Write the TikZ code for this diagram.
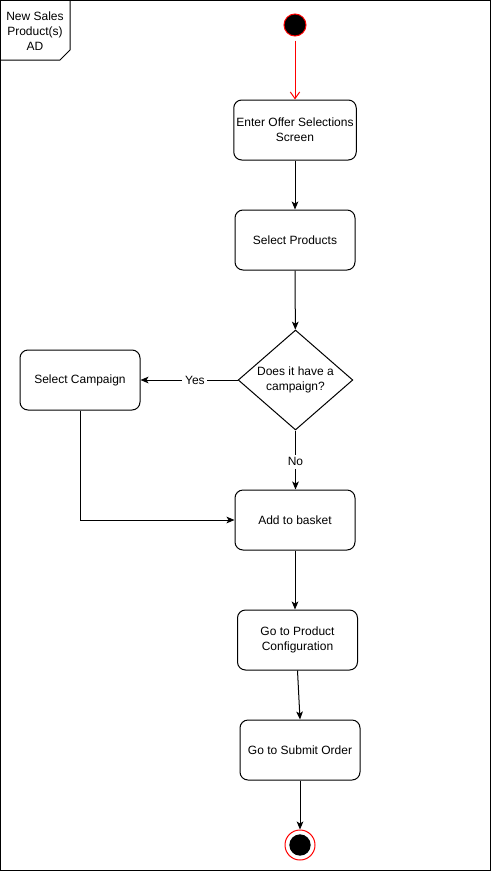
\documentclass[tikz,border=0pt]{standalone}
\usepackage{fontspec}
\setmainfont{Liberation Sans}
\usetikzlibrary{
  shapes.geometric,
  positioning,
  arrows.meta
}
\definecolor{nodered}{HTML}{FF0000}

\begin{document}
\begin{tikzpicture}[x=0.75pt,y=-0.75pt,
    abox/.style={rounded corners=6pt, draw, line width=0.75pt,
                 minimum width=90pt, minimum height=45pt,
                 font=\fontsize{9}{11}\selectfont, align=center, inner sep=2pt},
    decide/.style={diamond, draw, line width=0.75pt, aspect=1.15,
                   minimum width=86pt, minimum height=75pt, inner sep=0pt,
                   font=\fontsize{9}{11}\selectfont, align=center},
    initnode/.style={circle, fill=black, draw=nodered, line width=0.75pt,
                     minimum size=16.5pt, inner sep=0pt},
    endring/.style={circle, fill=white, draw=nodered, line width=0.75pt,
                    minimum size=22.5pt, inner sep=0pt},
    endcore/.style={circle, fill=black, minimum size=16pt, inner sep=0pt},
    flow/.style={line width=0.75pt, -{Stealth[length=6pt,width=5pt,inset=1.5pt]}},
    guard/.style={fill=white, font=\fontsize{9}{11}\selectfont, inner sep=2pt},
  ]
  \useasboundingbox (0,0) rectangle (491,871);
  % frame
  \draw[line width=0.75pt] (0.5,0.5) rectangle (490.5,870.5);
  \draw[line width=0.75pt] (0.5,60) -- (60,60) -- (70,50) -- (70,0.5);
  \node[font=\fontsize{9}{11}\selectfont, align=center] (title) at (35,31)
    {New Sales\\Product(s)\\AD};

  \node[initnode] (start) at (295,25) {};
  \node[abox] (offer) at (295,130) {Enter Offer Selections\\Screen};
  \node[abox] (products) at (295,240) {Select Products};
  \node[decide] (campq) at (295.5,380) {Does it have a\\campaign?};
  \node[abox] (campaign) at (80,380) {Select Campaign};
  \node[abox] (basket) at (295,520) {Add to basket};
  \node[abox] (config) at (297.5,640) {Go to Product\\Configuration};
  \node[abox] (submit) at (300,750) {Go to Submit Order};
  \node[endring] (stop) at (300,845) {};
  \node[endcore] (stopcore) at (stop) {};

  \draw[draw=nodered, line width=0.75pt, shorten <=3pt,
        -{Straight Barb[length=5pt,width=7pt]}] (start) -- (offer);
  \draw[flow] (offer) -- (products);
  \draw[flow] (products) -- (campq);
  \draw[flow] (campq) -- node[guard, pos=0.44] {Yes} (campaign);
  \draw[flow] (campq.south) -- node[guard, pos=0.53] {No} (basket.north -| campq.south);
  \draw[flow] (campaign.south) |- (basket.west);
  \draw[flow] (basket) -- (basket.south |- config.north);
  \draw[flow] (config.south) -- (submit.north);
  \draw[flow] (submit) -- (stop);
\end{tikzpicture}
\end{document}
